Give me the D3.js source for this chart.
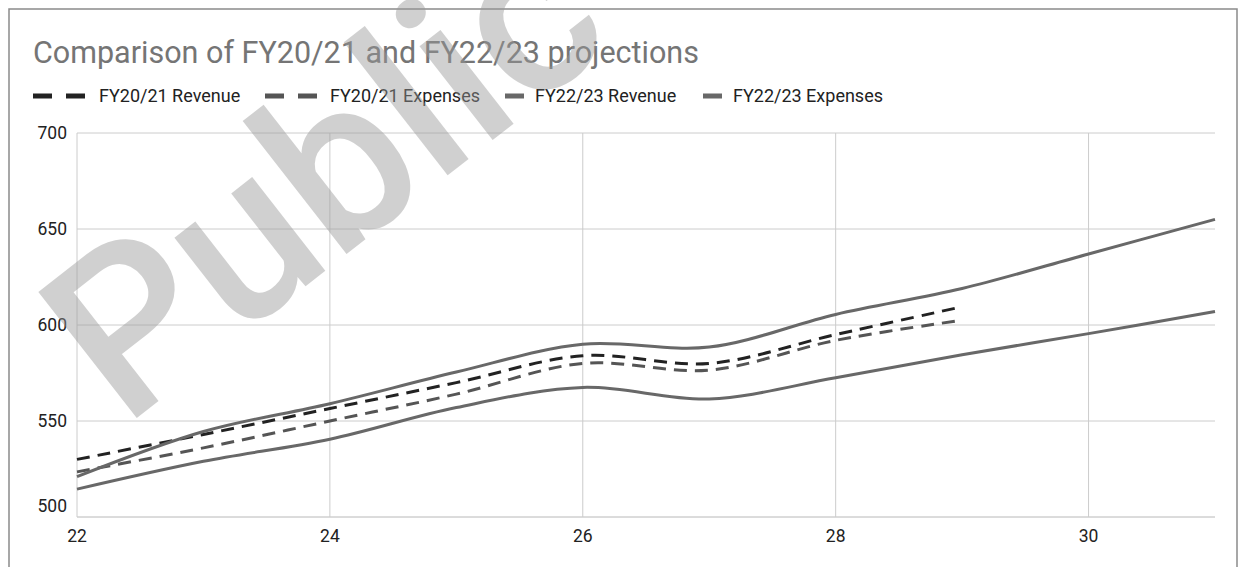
<!DOCTYPE html>
<html>
<head>
<meta charset="utf-8">
<script src="https://cdn.jsdelivr.net/npm/d3@7"></script>
<style>
    body { margin: 0; background: #fff; }
    text { font-family: Roboto, "Noto Sans", sans-serif; }
</style>
</head>
<body>
<div id="chart"></div>
<script>
//  Define width and height
var chart_width     =   1243;
var chart_height    =   567;

// Data
var years           =   [ 22, 23, 24, 25, 26, 27, 28, 29, 30, 31 ];
var rev_2021        =   [ 530, 543, 556.5, 570, 584, 580, 595, 609.5 ];
var exp_2021        =   [ 523.5, 536, 550, 564, 580, 576.5, 592, 602.5 ];
var rev_2223        =   [ 521, 544.5, 559, 575.5, 590, 588.5, 605.5, 619, 637, 655 ];
var exp_2223        =   [ 514.5, 529, 540.5, 557, 567.5, 561.5, 572.5, 584.5, 595.5, 607 ];
var y_ticks         =   [ 500, 550, 600, 650, 700 ];
var x_ticks         =   [ 22, 24, 26, 28, 30 ];

var series          =   [
    { name: 'FY20/21 Revenue',  values: rev_2021, color: '#222222', dash: '13,8' },
    { name: 'FY20/21 Expenses', values: exp_2021, color: '#555555', dash: '13,8' },
    { name: 'FY22/23 Revenue',  values: rev_2223, color: '#686868', dash: null },
    { name: 'FY22/23 Expenses', values: exp_2223, color: '#686868', dash: null }
];

// Plot area
var plot_left       =   77;
var plot_right      =   1215;
var plot_top        =   133;
var plot_bottom     =   517;

var x               =   d3.scaleLinear().domain([ 22, 31 ]).range([ plot_left, plot_right ]);
var y               =   d3.scaleLinear().domain([ 500, 700 ]).range([ plot_bottom, plot_top ]);

// Create SVG
var svg             =   d3.select("#chart")
    .append("svg")
    .attr("width", chart_width)
    .attr("height", chart_height);

svg.append('rect')
    .attr('x', 9)
    .attr('y', 9)
    .attr('width', 1228)
    .attr('height', 620)
    .attr('fill', '#fff')
    .attr('stroke', '#8a8a8a')
    .attr('stroke-width', 1.5);

// Title
svg.append('text')
    .attr('x', 33)
    .attr('y', 63)
    .attr('font-size', 30.5)
    .attr('fill', '#757575')
    .text('Comparison of FY20/21 and FY22/23 projections');

// Grid
svg.append('g')
    .selectAll('line')
    .data(y_ticks)
    .enter().append('line')
    .attr('x1', plot_left)
    .attr('x2', plot_right)
    .attr('y1', d => y(d))
    .attr('y2', d => y(d))
    .attr('stroke', d => d === 500 ? '#b8b8b8' : '#cccccc')
    .attr('stroke-width', 1);

svg.append('g')
    .selectAll('line')
    .data(x_ticks)
    .enter().append('line')
    .attr('x1', d => x(d))
    .attr('x2', d => x(d))
    .attr('y1', plot_top)
    .attr('y2', plot_bottom)
    .attr('stroke', '#cccccc')
    .attr('stroke-width', 1);

// Axis labels
svg.append('g')
    .selectAll('text')
    .data(y_ticks)
    .enter().append('text')
    .attr('x', 67)
    .attr('y', d => d === 500 ? y(d) - 11 : y(d))
    .attr('dy', '0.35em')
    .attr('text-anchor', 'end')
    .attr('font-size', 17.5)
    .attr('fill', '#222')
    .text(d => d);

svg.append('g')
    .selectAll('text')
    .data(x_ticks)
    .enter().append('text')
    .attr('x', d => x(d))
    .attr('y', 542)
    .attr('text-anchor', 'middle')
    .attr('font-size', 17.5)
    .attr('fill', '#222')
    .text(d => d);

// Lines
var line            =   d3.line()
    .x((d, i) => x(years[i]))
    .y(d => y(d))
    .curve(d3.curveCatmullRom.alpha(0.5));

svg.append('g')
    .selectAll('path')
    .data(series)
    .enter().append('path')
    .attr('d', d => line(d.values))
    .attr('fill', 'none')
    .attr('stroke', d => d.color)
    .attr('stroke-width', 3)
    .attr('stroke-dasharray', d => d.dash);

// Legend
var legend_marks    =   [ [ 33, 66 ], [ 265, 298 ], [ 505 ], [ 703 ] ];
var legend_text     =   [ 99, 330, 535, 733 ];

var legend          =   svg.append('g')
    .attr('class', 'legend');

legend.selectAll('g')
    .data(series)
    .enter().append('g')
    .attr('transform', 'translate(0,96)')
    .each(function(d, i){
        var g = d3.select(this);
        g.selectAll('rect')
            .data(legend_marks[i])
            .enter().append('rect')
            .attr('x', m => m)
            .attr('y', -2.5)
            .attr('width', 19)
            .attr('height', 5)
            .attr('fill', d.color);
        g.append('text')
            .attr('x', legend_text[i])
            .attr('dy', '0.35em')
            .attr('font-size', 18)
            .attr('fill', '#222')
            .text(d.name);
    });

// Watermark
svg.append('text')
    .attr('transform', 'translate(124,428) rotate(-38)')
    .attr('font-size', 225)
    .attr('font-weight', 500)
    .attr('fill', '#999')
    .attr('opacity', 0.45)
    .text('Public');
</script>
</body>
</html>
